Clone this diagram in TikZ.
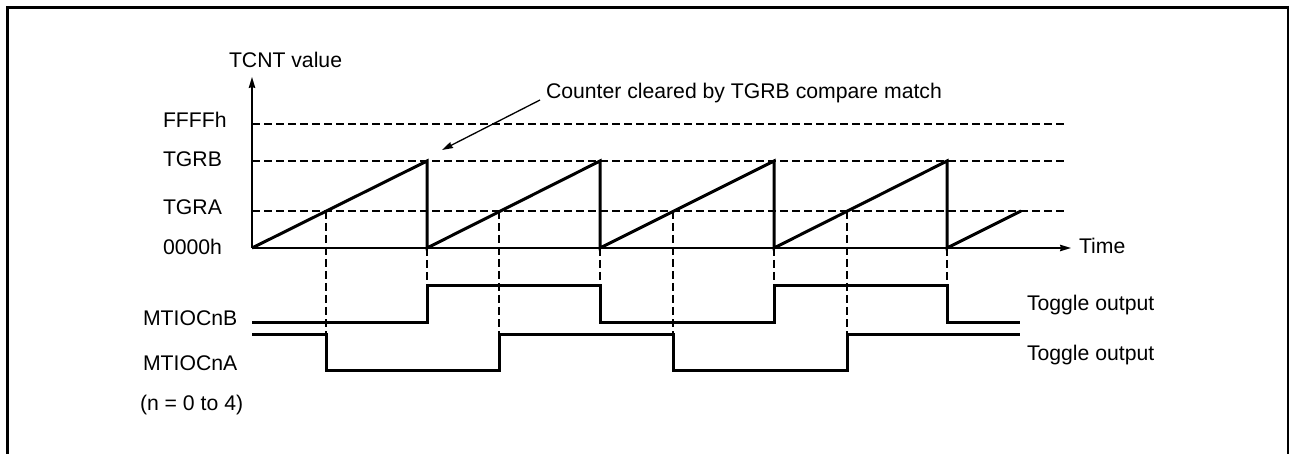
\documentclass[tikz,border=0pt]{standalone}
\usepackage{fontspec}
\setmainfont{Liberation Sans}
\usetikzlibrary{arrows.meta}
\begin{document}
\begin{tikzpicture}[x=1pt,y=-1pt,
  lbl/.style={anchor=base west,inner sep=0pt,outer sep=0pt,font=\fontsize{21.2}{25}\selectfont},
  wave/.style={line width=3pt,line join=miter},
  axis/.style={line width=1.4pt},
  guide/.style={line width=2.5pt,dash pattern=on 7.5pt off 4.5pt},
  vguide/.style={line width=2.3pt,dash pattern=on 8pt off 4pt},
  tip/.style={-{Stealth[length=11pt,width=6.5pt,inset=1pt]}},
  frameline/.style={line width=3pt}]
\useasboundingbox (0,0) rectangle (1290,454);
% frame (open at bottom)
\draw[frameline] (7.5,454) -- (7.5,7.5) -- (1288,7.5);
\draw[line width=1.6pt] (1288,6) -- (1288,454);

% labels
\node[lbl] (tcnt) at (229,68) {TCNT value};
\node[lbl] (ffff) at (163,128) {FFFFh};
\node[lbl] (tgrb) at (163,167) {TGRB};
\node[lbl] (tgra) at (163,215) {TGRA};
\node[lbl] (zero) at (163,255) {0000h};
\node[lbl] (time) at (1079,254) {Time};
\node[lbl] (mtb) at (143,325) {MTIOCnB};
\node[lbl] (mta) at (143,370) {MTIOCnA};
\node[lbl] (nrange) at (140,410) {(n = 0 to 4)};
\node[lbl] (note) at (546,99) {Counter cleared by TGRB compare match};
\node[lbl] (togb) at (1027,310) {Toggle output};
\node[lbl] (toga) at (1027,360) {Toggle output};

% axes
\coordinate (o) at (252,248);
\coordinate (ytop) at (252,77);
\coordinate (xend) at (1071,248);
\draw[axis,tip] (o) -- (ytop);
\draw[axis,tip] (o) -- (xend);

% level guides
\coordinate (fS) at (252,124); \coordinate (fE) at (1065,124);
\coordinate (bS) at (252,161); \coordinate (bE) at (1065,161);
\coordinate (aS) at (252,211); \coordinate (aE) at (1065,211);
\draw[guide] (fS) -- (fE);
\draw[guide] (bS) -- (bE);
\draw[guide] (aS) -- (aE);

% vertical guides at compare matches
\foreach \x in {427,600,774,947} \draw[vguide] (\x,248) -- (\x,286);
\foreach \x in {326,499,673,847} \draw[vguide] (\x,211) -- (\x,334);

% sawtooth
\draw[wave] (252,248) -- (427,161) -- (427,248) -- (600,161) -- (600,248)
  -- (774,161) -- (774,248) -- (947,161) -- (947,248) -- (1021,211);

% MTIOCnB
\draw[wave] (252,322) -- (427,322) -- (427,286) -- (600,286) -- (600,322)
  -- (774,322) -- (774,286) -- (947,286) -- (947,322) -- (1020,322);
% MTIOCnA
\draw[wave] (252,334) -- (326,334) -- (326,370) -- (499,370) -- (499,334)
  -- (673,334) -- (673,370) -- (847,370) -- (847,334) -- (1020,334);

% annotation arrow
\coordinate (nstart) at (540,100);
\coordinate (ntip) at (442,150);
\draw[line width=1.3pt,-{Stealth[length=11pt,width=6.5pt,inset=1pt]}] (nstart) -- (ntip);
\end{tikzpicture}
\end{document}
